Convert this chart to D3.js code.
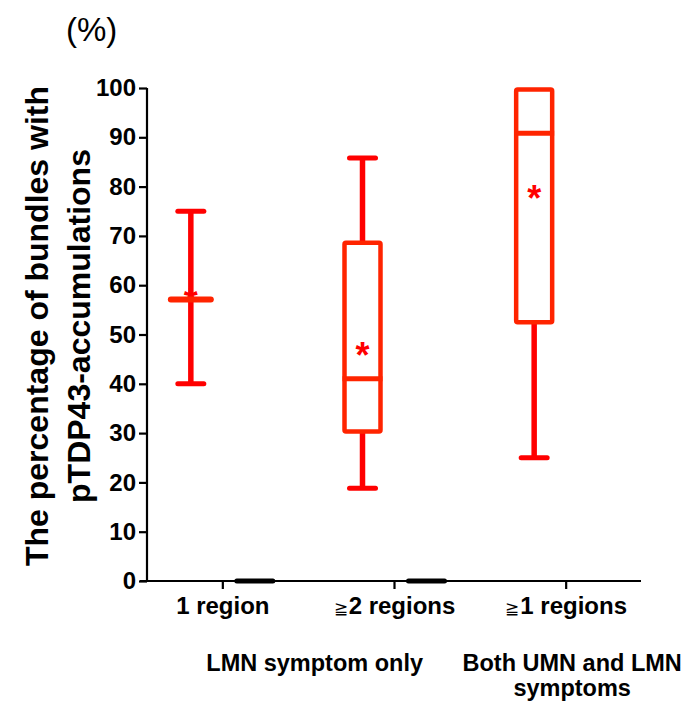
<!DOCTYPE html>
<html>
<head>
<meta charset="utf-8">
<script src="https://cdn.jsdelivr.net/npm/d3@7"></script>
<style>
  body { margin: 0; background: #fff; }
  svg { display: block; font-family: "Liberation Sans", Arial, sans-serif; }
</style>
</head>
<body>
<div id="chart"></div>
<script>
// categories on the x axis and the two groups of categories
var categories = ["1 region", "\u22672 regions", "\u22671 regions"];
var groupLabels = [["LMN symptom only"], ["Both UMN and LMN", "symptoms"]];
var groupMembers = [[0, 1], [2]];

// red box plots (percent)
var whiskerLow  = [40, 18.8, 25];
var q1          = [57.1, 30.3, 52.5];
var median      = [57.1, 41.0, 90.8];
var q3          = [57.1, 68.6, 99.7];
var whiskerHigh = [75, 85.8, 99.7];
var mean        = [57.8, 46.9, 78.8];

// second (black) series, all zero where present
var blackSeries = [0, 0, null];

var yTicks = d3.range(0, 101, 10);

var width = 688, height = 702;

var svg = d3.select('#chart').append('svg')
    .attr('width', width)
    .attr('height', height);

var x = d3.scaleBand()
    .domain(categories)
    .range([137, 652])
    .padding(0);

var sub = d3.scalePoint()
    .domain(['red', 'black'])
    .range([x.bandwidth() / 2 - 32, x.bandwidth() / 2 + 32]);

var y = d3.scaleLinear()
    .domain([0, 100])
    .range([581, 88]);

var boxW = 36, capW = 26;
var red = '#ff0000', boxRed = '#ff2400';

// axes
var yAxis = svg.append('g')
    .attr('transform', 'translate(147,0)')
    .call(d3.axisLeft(y).tickValues(yTicks).tickSize(8).tickPadding(3).tickFormat(d3.format('d')));
yAxis.select('.domain').attr('d', 'M0,' + y(100) + 'V' + y(0));

var xAxis = svg.append('g')
    .attr('transform', 'translate(0,' + y(0) + ')')
    .call(d3.axisBottom(x).tickSize(8).tickPadding(8));
xAxis.select('.domain').attr('d', 'M140,0H641');

svg.selectAll('.domain, .tick line')
    .attr('stroke', '#000')
    .attr('stroke-width', 2.2);
yAxis.selectAll('.tick text')
    .attr('font-size', 24)
    .attr('font-weight', 'bold')
    .attr('fill', '#000');
xAxis.selectAll('.tick text')
    .attr('font-size', 24)
    .attr('font-weight', 'bold')
    .attr('fill', '#000')
    .each(function(d){
        // the ≧ sign is drawn small, as in the original figure
        if (d.charAt(0) !== '\u2267') return;
        var t = d3.select(this).text(null);
        t.append('tspan').attr('font-size', 17).attr('font-weight', 'normal').text('\u2267');
        t.append('tspan').attr('dx', 1).text(d.slice(1));
    });

// group labels under the axis
groupLabels.forEach(function(lines, gi){
    var members = groupMembers[gi];
    var cx = d3.mean(members, function(i){ return x(categories[i]) + x.bandwidth() / 2; }) + 6;
    var t = svg.append('text')
        .attr('x', cx)
        .attr('y', 671)
        .attr('text-anchor', 'middle')
        .attr('font-size', 23.5)
        .attr('font-weight', 'bold')
        .attr('fill', '#000');
    lines.forEach(function(line, li){
        t.append('tspan').attr('x', cx).attr('dy', li === 0 ? 0 : 24.5).text(line);
    });
});

// y title
var title = svg.append('text')
    .attr('transform', 'translate(48,' + 326 + ') rotate(-90)')
    .attr('text-anchor', 'middle')
    .attr('font-size', 32)
    .attr('font-weight', 'bold')
    .attr('fill', '#000');
title.append('tspan').attr('x', 0).attr('dy', 0).text('The percentage of bundles with');
title.append('tspan').attr('x', 0).attr('dy', 42).text('pTDP43-accumulations');

svg.append('text')
    .attr('x', 66)
    .attr('y', 41)
    .attr('font-size', 33)
    .attr('fill', '#000')
    .text('(%)');

// box plots
var plot = svg.append('g');
categories.forEach(function(c, i){
    var cx = x(c) + sub('red');
    var g = plot.append('g');

    // mean marker sits under the box lines
    g.append('text')
        .attr('x', cx)
        .attr('y', y(mean[i]) + 18)
        .attr('text-anchor', 'middle')
        .attr('font-size', 36)
        .attr('font-weight', 'bold')
        .attr('fill', red)
        .text('*');

    // whiskers
    g.append('line')
        .attr('x1', cx).attr('x2', cx)
        .attr('y1', y(whiskerHigh[i])).attr('y2', y(q3[i]))
        .attr('stroke', red).attr('stroke-width', 5.5);
    g.append('line')
        .attr('x1', cx).attr('x2', cx)
        .attr('y1', y(q1[i])).attr('y2', y(whiskerLow[i]))
        .attr('stroke', red).attr('stroke-width', 5.5);
    [whiskerHigh[i], whiskerLow[i]].forEach(function(v){
        if (v === q3[i] && q3[i] !== q1[i]) return;
        g.append('line')
            .attr('x1', cx - capW / 2).attr('x2', cx + capW / 2)
            .attr('y1', y(v)).attr('y2', y(v))
            .attr('stroke', red).attr('stroke-width', 5)
            .attr('stroke-linecap', 'round');
    });

    // box
    if (q3[i] > q1[i]) {
        g.append('rect')
            .attr('x', cx - boxW / 2)
            .attr('y', y(q3[i]))
            .attr('width', boxW)
            .attr('height', y(q1[i]) - y(q3[i]))
            .attr('rx', 1.5)
            .attr('fill', 'none')
            .attr('stroke', boxRed)
            .attr('stroke-width', 4.5);
    }
    g.append('line')
        .attr('x1', cx - boxW / 2 - 2).attr('x2', cx + boxW / 2 + 2)
        .attr('y1', y(median[i])).attr('y2', y(median[i]))
        .attr('stroke', boxRed).attr('stroke-width', q3[i] > q1[i] ? 5 : 6)
        .attr('stroke-linecap', q3[i] > q1[i] ? 'butt' : 'round');

    // black series (flat at zero)
    if (blackSeries[i] !== null) {
        var bx = x(c) + sub('black');
        g.append('line')
            .attr('x1', bx - boxW / 2).attr('x2', bx + boxW / 2)
            .attr('y1', y(blackSeries[i])).attr('y2', y(blackSeries[i]))
            .attr('stroke', '#000').attr('stroke-width', 5)
            .attr('stroke-linecap', 'round');
    }
});
</script>
</body>
</html>
